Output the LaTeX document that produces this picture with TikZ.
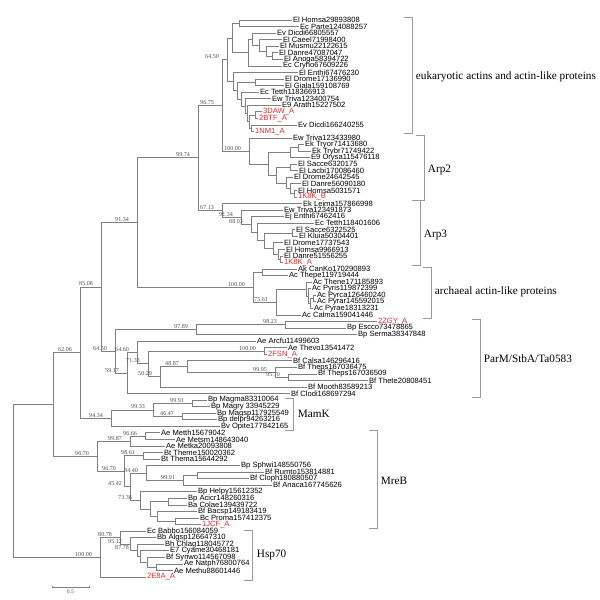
\documentclass[tikz,border=0pt]{standalone}
\usepackage{fontspec}
\setmainfont{Liberation Serif}
\newfontfamily\arialf{Liberation Sans}
\usetikzlibrary{calc}
\definecolor{brc}{gray}{0.5}
\definecolor{bkc}{gray}{0.6}
\definecolor{bsc}{gray}{0.3}
\definecolor{pdbred}{RGB}{215,45,45}
\newcommand\leaffont{\arialf\fontsize{5.4}{5.6}\selectfont}
\newcommand\inode[4]{%
  \path let \p1=(#3), \p2=(#4) in coordinate (#1) at ({#2*0.025cm},{0.5*\y1+0.5*\y2});
  \draw[brl] (#1) |- (#3);
  \draw[brl] (#1) |- (#4);
}
\newcommand\bsl[2]{\node[bs] (bs#1) at (#1) {#2};}
\newcommand\grpbr[3]{\draw[bk] ({#1-8},#2) -- (#1,#2) -- (#1,#3) -- ({#1-8},#3);}
\tikzset{
  brl/.style={draw=brc, line width=0.5pt},
  bk/.style={draw=bkc, line width=0.6pt},
  leaf/.style={anchor=west, inner xsep=0.6pt, inner ysep=0pt, font=\leaffont},
  pdb/.style={leaf, text=pdbred},
  bs/.style={anchor=south east, xshift=-5.3pt, yshift=0.1pt, inner sep=0.3pt, text=bsc, font=\fontsize{4.3}{4.5}\selectfont},
  grp/.style={anchor=west, inner sep=0.5pt, font=\fontsize{8}{9}\selectfont},
}
\begin{document}
\begin{tikzpicture}[x=0.025cm, y=-0.025cm]
\useasboundingbox (0,0) rectangle (600,600);
% ---------- leaves ----------
\node[leaf] (L1) at (292,20.00) {El Homsa29893808};
\node[leaf] (L2) at (299,26.55) {Ec Parte124088257};
\node[leaf] (L3) at (276,33.11) {Ev Dicdi66805557};
\node[leaf] (L4) at (282,39.66) {El Caeel71998400};
\node[leaf] (L5) at (279,46.21) {El Musmu22122615};
\node[leaf] (L6) at (278,52.77) {El Danre47087047};
\node[leaf] (L7) at (283,59.32) {El Anoga58394722};
\node[leaf] (L8) at (282,65.87) {Ec Cryho67609226};
\node[leaf] (L9) at (298,72.42) {El Enthi67476230};
\node[leaf] (L10) at (284,78.98) {El Drome17136990};
\node[leaf] (L11) at (284,85.53) {El Giala159108769};
\node[leaf] (L12) at (259,92.08) {Ec Tetth118366913};
\node[leaf] (L13) at (271,98.64) {Ew Triva123400754};
\node[leaf] (L14) at (281,105.19) {E9 Arath15227502};
\node[pdb] (L15) at (262,111.74) {3DAW\_A};
\node[pdb] (L16) at (258,118.30) {2BTF\_A};
\node[leaf] (L17) at (297,124.85) {Ev Dicdi166240255};
\node[pdb] (L18) at (254,131.40) {1NM1\_A};
\node[leaf] (L19) at (292,137.95) {Ew Triva123433980};
\node[leaf] (L20) at (304,144.51) {Ek Tryor71413680};
\node[leaf] (L21) at (311,151.06) {Ek Trybr71749422};
\node[leaf] (L22) at (310,157.61) {E9 Orysa115476118};
\node[leaf] (L23) at (297,164.17) {El Sacce6320175};
\node[leaf] (L24) at (298,170.72) {El Lacbi170086460};
\node[leaf] (L25) at (293,177.27) {El Drome24642545};
\node[leaf] (L26) at (301,183.83) {El Danre56090180};
\node[leaf] (L27) at (297,190.38) {El Homsa5031571};
\node[pdb] (L28) at (297,196.93) {1K8K\_B};
\node[leaf] (L29) at (302,203.48) {Ek Leima157866998};
\node[leaf] (L30) at (283,210.04) {Ew Triva123491873};
\node[leaf] (L31) at (284,216.59) {Ej Enthi67462416};
\node[leaf] (L32) at (314,223.14) {Ec Tetth118401606};
\node[leaf] (L33) at (295,229.70) {El Sacce6322525};
\node[leaf] (L34) at (298,236.25) {El Kluia50304401};
\node[leaf] (L35) at (283,242.80) {El Drome17737543};
\node[leaf] (L36) at (285,249.36) {El Homsa9966913};
\node[leaf] (L37) at (283,255.91) {El Danre51556255};
\node[pdb] (L38) at (283,262.46) {1K8K\_A};
\node[leaf] (L39) at (297,269.01) {Ak CanKo170290893};
\node[leaf] (L40) at (288,275.57) {Ac Thepe119719444};
\node[leaf] (L41) at (312,282.12) {Ac Thene171185893};
\node[leaf] (L42) at (311,288.67) {Ac Pyris119872399};
\node[leaf] (L43) at (316,295.23) {Ac Pyrca126460240};
\node[leaf] (L44) at (316,301.78) {Ac Pyrar145592015};
\node[leaf] (L45) at (313,308.33) {Ac Pyrae18313231};
\node[leaf] (L46) at (301,314.89) {Ac Calma159041446};
\node[pdb] (L47) at (377,321.44) {2ZGY\_A};
\node[leaf] (L48) at (346,327.99) {Bp Escco73478865};
\node[leaf] (L49) at (357,334.54) {Bp Serma38347848};
\node[leaf] (L50) at (256,341.10) {Ae Arcfu11499603};
\node[leaf] (L51) at (287,347.65) {Ae Thevo13541472};
\node[pdb] (L52) at (267,354.20) {2FSN\_A};
\node[leaf] (L53) at (292,360.76) {Bf Calsa146296416};
\node[leaf] (L54) at (297,367.31) {Bf Theps167036475};
\node[leaf] (L55) at (317,373.86) {Bf Theps167036509};
\node[leaf] (L56) at (368,380.42) {Bf Thete20808451};
\node[leaf] (L57) at (307,386.97) {Bf Mooth83589213};
\node[leaf] (L58) at (290,393.52) {Bf Clodi168697294};
\node[leaf] (L59) at (207,400.07) {Bp Magma83310064};
\node[leaf] (L60) at (210,406.63) {Bp Magry 33945229};
\node[leaf] (L61) at (216,413.18) {Bp Magsp117925549};
\node[leaf] (L62) at (217,419.73) {Bp delpr94263216};
\node[leaf] (L63) at (220,426.29) {Bv Opite177842165};
\node[leaf] (L64) at (160,432.84) {Ae Metth15679042};
\node[leaf] (L65) at (175,439.39) {Ae Metsm148643040};
\node[leaf] (L66) at (165,445.95) {Ae Metka20093808};
\node[leaf] (L67) at (163,452.50) {Bt Theme150020362};
\node[leaf] (L68) at (160,459.05) {Bt Thema15644292};
\node[leaf] (L69) at (240,465.60) {Bp Sphwi148550756};
\node[leaf] (L70) at (264,472.16) {Bf Rumto153814881};
\node[leaf] (L71) at (249,478.71) {Bf Cloph180880507};
\node[leaf] (L72) at (272,485.26) {Bf Anaca167745626};
\node[leaf] (L73) at (197,491.82) {Bp Helpy15612352};
\node[leaf] (L74) at (187,498.37) {Bp Acicr148260316};
\node[leaf] (L75) at (187,504.92) {Ba Colae139439722};
\node[leaf] (L76) at (197,511.48) {Bf Bacsp149183419};
\node[leaf] (L77) at (199,518.03) {Bc Proma157412375};
\node[pdb] (L78) at (201,524.58) {1JCF\_A};
\node[leaf] (L79) at (146,531.13) {Ec Babbo156084059};
\node[leaf] (L80) at (156,537.69) {Bb Algsp126647310};
\node[leaf] (L81) at (164,544.24) {Bh Chlag118045772};
\node[leaf] (L82) at (169,550.79) {E7 Cyame30468181};
\node[leaf] (L83) at (165,557.35) {Bf Synwo114567098};
\node[leaf] (L84) at (183,563.90) {Ae Natph76800764};
\node[leaf] (L85) at (173,570.45) {Ae Methu88601446};
\node[pdb] (L86) at (146,577.00) {2E8A\_A};
% ---------- actins ----------
\inode{a1}{239}{L1}{L2}
\inode{a3}{272}{L6}{L7}
\inode{a4}{266}{L5}{a3}
\inode{a5}{259}{L4}{a4}
\inode{a6}{252}{L3}{a5}
\inode{a7}{248}{a6}{L8}
\inode{a8}{232}{a1}{a7}
\inode{ad}{255}{L10}{L11}
\inode{aj}{251}{L17}{L18}
\inode{ai}{255}{L15}{L16}
\inode{ah}{249}{ai}{aj}
\inode{ag}{247}{L14}{ah}
\inode{af}{245}{L13}{ag}
\inode{ae}{241}{L12}{af}
\inode{ac}{237}{ad}{ae}
\inode{ab}{233}{L9}{ac}
\inode{G}{227}{a8}{ab}
% ---------- Arp2 ----------
\inode{b1}{298}{L20}{L21}
\inode{b2}{290}{b1}{L22}
\inode{b3}{290}{L23}{L24}
\inode{b6}{294}{L27}{L28}
\inode{b5}{290}{L26}{b6}
\inode{b4}{286}{L25}{b5}
\inode{b7}{276}{b3}{b4}
\inode{b8}{268}{b2}{b7}
\inode{A2}{249}{L19}{b8}
% ---------- Arp3 ----------
\inode{c1}{292}{L33}{L34}
\inode{c3}{280}{L37}{L38}
\inode{c2}{278}{L36}{c3}
\inode{c4}{273}{L35}{c2}
\inode{c5}{264}{c1}{c4}
\inode{c6}{257}{L32}{c5}
\inode{c7}{251}{L31}{c6}
\inode{c8}{241}{L30}{c7}
\inode{A3}{222}{L29}{c8}
\inode{F}{222}{G}{A2}
\inode{E}{198}{F}{A3}
% ---------- archaeal ----------
\inode{r1}{262}{L39}{L40}
\inode{r4}{313}{L43}{L44}
\inode{r3c}{310}{r4}{L45}
\inode{r3b}{308}{L42}{r3c}
\inode{r3}{306}{L41}{r3b}
\inode{r2}{276}{r3}{L46}
\inode{Ar}{253}{r1}{r2}
\inode{D}{137}{E}{Ar}
% ---------- ParM ----------
\inode{p1}{285}{L47}{L48}
\inode{p2}{196}{p1}{L49}
\inode{p3}{264}{L51}{L52}
\inode{p4}{288}{L55}{L56}
\inode{p5}{275}{L54}{p4}
\inode{p6}{187}{L53}{p5}
\inode{p7}{160}{p6}{L57}
\inode{p8}{148}{p3}{p7}
\inode{p9}{137}{L50}{p8}
\inode{p10}{127}{p9}{L58}
\inode{PM}{115}{p2}{p10}
\inode{C}{101}{D}{PM}
% ---------- MamK ----------
\inode{k2}{192}{L59}{L60}
\inode{k3}{182}{L61}{L62}
\inode{k1}{153}{k2}{k3}
\inode{MK}{111}{k1}{L63}
\inode{B}{80}{C}{MK}
% ---------- MreB ----------
\inode{m3}{145}{L64}{L65}
\inode{m1}{130}{m3}{L66}
\inode{m4}{143}{L67}{L68}
\inode{m9}{197}{L70}{L71}
\inode{m8}{183}{m9}{L72}
\inode{m6}{146}{L69}{m8}
\inode{m13}{168}{L74}{L75}
\inode{m14}{175}{L77}{L78}
\inode{m12}{157}{L76}{m14}
\inode{m11}{150}{m13}{m12}
\inode{m7}{140}{L73}{m11}
\inode{m5}{130}{m6}{m7}
\inode{m2}{124}{m4}{m5}
\inode{MR}{97}{m1}{m2}
\inode{A}{53}{B}{MR}
% ---------- Hsp70 ----------
\inode{h5}{156}{L84}{L85}
\inode{h4}{147}{L83}{h5}
\inode{h3}{140}{L82}{h4}
\inode{h2}{137}{L81}{h3}
\inode{h1}{130}{L80}{h2}
\inode{P}{120}{L79}{h1}
\inode{Nh}{100}{P}{L86}
\inode{root}{13}{A}{Nh}
% ---------- bootstrap values ----------
\bsl{G}{64.50}
\bsl{A2}{100.00}
\bsl{F}{96.75}
\bsl{c7}{88.03}
\bsl{c8}{91.34}
\bsl{A3}{67.13}
\bsl{E}{99.74}
\bsl{r2}{75.61}
\bsl{Ar}{100.00}
\bsl{D}{91.34}
\bsl{p1}{98.23}
\bsl{p2}{97.89}
\bsl{p3}{100.00}
\bsl{p4}{95.70}
\bsl{p5}{99.95}
\bsl{p6}{48.87}
\bsl{p7}{50.29}
\bsl{p8}{71.33}
\bsl{p9}{64.60}
\bsl{p10}{59.17}
\bsl{PM}{64.50}
\bsl{C}{85.08}
\bsl{k2}{99.91}
\bsl{k3}{46.47}
\bsl{k1}{99.33}
\bsl{MK}{94.34}
\bsl{B}{62.06}
\bsl{m3}{96.66}
\bsl{m1}{99.87}
\bsl{m4}{98.61}
\bsl{m8}{99.91}
\bsl{m6}{84.40}
\bsl{m7}{73.36}
\bsl{m5}{45.42}
\bsl{m2}{96.70}
\bsl{MR}{96.70}
\bsl{h2}{87.78}
\bsl{h1}{95.12}
\bsl{P}{80.78}
\bsl{Nh}{100.00}
% ---------- group brackets ----------
\grpbr{412}{17}{133}
\grpbr{424}{135}{200}
\grpbr{420}{200}{265}
\grpbr{431}{267}{318}
\grpbr{480}{319}{397}
\grpbr{293}{398}{430}
\grpbr{377}{430}{528}
\grpbr{252}{530}{580}
\node[grp] (gEuk) at (415,77) {eukaryotic actins and actin-like proteins};
\node[grp] (gArp2) at (427,170) {Arp2};
\node[grp] (gArp3) at (423,235) {Arp3};
\node[grp] (gArc) at (434,292) {archaeal actin-like proteins};
\node[grp] (gParM) at (483,359) {ParM/StbA/Ta0583};
\node[grp] (gMamK) at (297,414) {MamK};
\node[grp] (gMreB) at (380,481) {MreB};
\node[grp] (gHsp) at (256,555) {Hsp70};
% ---------- scale bar ----------
\coordinate (sb1) at (52,587);
\coordinate (sb2) at (89,587);
\draw[brl] (sb1) -- (sb2);
\draw[brl] ([yshift=1pt]sb1) -- ([yshift=-1pt]sb1);
\draw[brl] ([yshift=1pt]sb2) -- ([yshift=-1pt]sb2);
\node[text=bsc, font=\fontsize{4}{4.5}\selectfont, anchor=north, inner sep=0.5pt] (sbl) at (70.5,589) {0.5};
\end{tikzpicture}
\end{document}
